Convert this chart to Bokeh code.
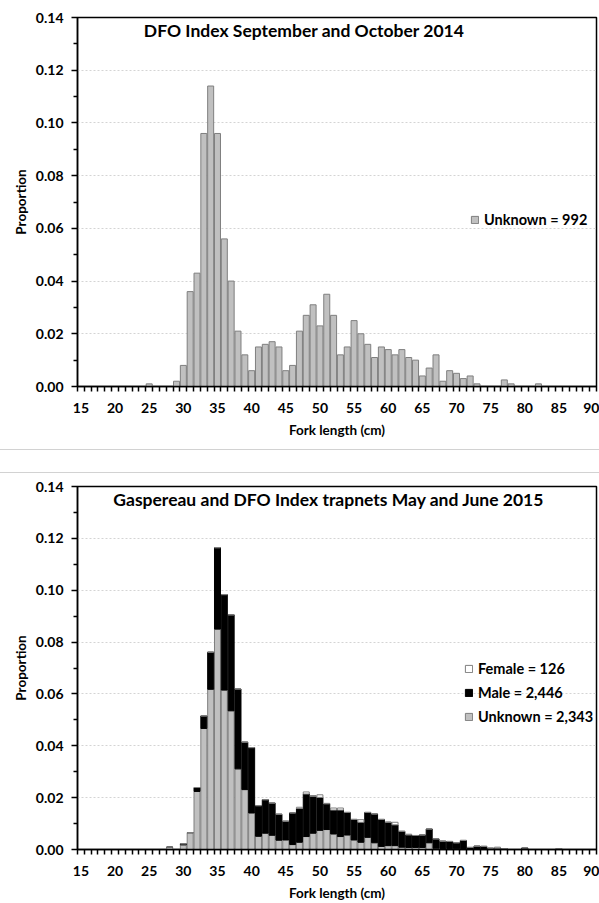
from bokeh.plotting import figure
from bokeh.models import (Range1d, FixedTicker, NumeralTickFormatter, Legend,
                          LegendItem, Label, ColumnDataSource, Div)
from bokeh.layouts import column
from bokeh.embed import file_html
from bokeh.resources import INLINE

# ---------------- data ----------------
lengths = list(range(15, 91))  # fork length classes (cm)
x_tick_labels = list(range(15, 91, 5))
y_ticks = [0.0, 0.02, 0.04, 0.06, 0.08, 0.10, 0.12, 0.14]

title_2014 = "DFO Index September and October 2014"
title_2015 = "Gaspereau and DFO Index trapnets May and June 2015"

# 2014 DFO index - unknown sex (n = 992)
unknown_2014 = [
    0, 0, 0, 0, 0, 0, 0, 0, 0, 0,                                  # 15-24
    0.001, 0, 0, 0, 0.002, 0.008, 0.036, 0.043, 0.096, 0.114,      # 25-34
    0.096, 0.056, 0.040, 0.021, 0.012, 0.006, 0.015, 0.016, 0.017, 0.015,  # 35-44
    0.006, 0.008, 0.021, 0.027, 0.031, 0.023, 0.035, 0.027, 0.012, 0.015,  # 45-54
    0.025, 0.020, 0.016, 0.011, 0.015, 0.014, 0.012, 0.014, 0.011, 0.010,  # 55-64
    0.004, 0.007, 0.012, 0.002, 0.006, 0.005, 0.003, 0.004, 0.001, 0,      # 65-74
    0, 0, 0.0025, 0.001, 0, 0, 0, 0.001, 0, 0,                    # 75-84
    0, 0, 0, 0, 0, 0,                                              # 85-90
]

# 2015 trapnets - stacked by sex
unknown_2015 = [
    0, 0, 0, 0, 0, 0, 0, 0, 0, 0,
    0, 0, 0, 0.0009, 0, 0.0018, 0.0065, 0.0224, 0.0467, 0.0618,
    0.0850, 0.0615, 0.0535, 0.0311, 0.0231, 0.0141, 0.0051, 0.0063, 0.0055, 0.0036,
    0.0037, 0.0019, 0.0028, 0.0050, 0.0063, 0.0074, 0.0077, 0.0060, 0.0050, 0.0056,
    0.0037, 0.0028, 0.0047, 0.0026, 0.0012, 0.0015, 0.0015, 0.0009, 0.0008, 0.0008,
    0.0008, 0.0026, 0.0005, 0.0004, 0.0004, 0.0003, 0.0004, 0, 0, 0,
    0, 0, 0, 0, 0, 0, 0, 0, 0, 0,
    0, 0, 0, 0, 0, 0,
]
male_2015 = [
    0, 0, 0, 0, 0, 0, 0, 0, 0, 0,
    0, 0, 0, 0, 0, 0.0004, 0, 0.0015, 0.0048, 0.0143,
    0.0314, 0.0368, 0.0370, 0.0308, 0.0183, 0.0252, 0.0118, 0.0129, 0.0124, 0.0100,
    0.0072, 0.0122, 0.0130, 0.0164, 0.0142, 0.0127, 0.0099, 0.0092, 0.0102, 0.0087,
    0.0079, 0.0077, 0.0096, 0.0111, 0.0104, 0.0090, 0.0080, 0.0061, 0.0048, 0.0046,
    0.0048, 0.0053, 0.0036, 0.0028, 0.0027, 0.0023, 0.0031, 0.0008, 0.0013, 0.0012,
    0.0005, 0.0005, 0.0003, 0, 0, 0.0006, 0, 0, 0, 0,
    0.0003, 0, 0, 0, 0, 0,
]
female_2015 = [
    0, 0, 0, 0, 0, 0, 0, 0, 0, 0,
    0, 0, 0, 0, 0, 0, 0, 0, 0, 0,
    0, 0, 0, 0, 0, 0, 0, 0, 0, 0,
    0, 0, 0.0005, 0.0008, 0.0003, 0.0010, 0.0002, 0.0008, 0.0008, 0,
    0, 0.0010, 0, 0, 0, 0, 0.0010, 0, 0.0003, 0,
    0, 0, 0, 0, 0, 0, 0, 0, 0, 0,
    0, 0.0004, 0, 0, 0, 0, 0, 0, 0, 0,
    0, 0, 0, 0, 0, 0,
]

label_2014 = "Unknown = 992"
labels_2015 = ["Female = 126", "Male = 2,446", "Unknown = 2,343"]

# ---------------- styling ----------------
FONT = "Lato"
GRAY_FILL = "#c0c0c0"
GRAY_LINE = "#7f7f7f"
BAR_W = 0.88


def style(p):
    p.x_range = Range1d(14.5, 90.5)
    p.y_range = Range1d(0, 0.14)
    p.outline_line_color = "black"
    p.outline_line_width = 1.5
    p.background_fill_color = "white"
    p.border_fill_color = "white"
    p.xgrid.visible = False
    p.ygrid.grid_line_color = "#d4d4d4"
    p.ygrid.grid_line_dash = "2 2"
    p.ygrid.grid_line_width = 1

    xa = p.xaxis[0]
    xa.ticker = FixedTicker(ticks=x_tick_labels,
                            minor_ticks=[v - 0.5 for v in lengths] + [90.5])
    xa.major_tick_line_color = None
    xa.minor_tick_line_color = "black"
    xa.minor_tick_line_width = 1.5
    xa.minor_tick_out = 5
    xa.minor_tick_in = 0
    xa.axis_line_color = "black"
    xa.axis_line_width = 1.5
    xa.major_label_text_font = FONT
    xa.major_label_text_font_style = "bold"
    xa.major_label_text_font_size = "14px"
    xa.major_label_text_color = "black"
    xa.major_label_standoff = 10
    xa.axis_label = "Fork length (cm)"
    xa.axis_label_text_font = FONT
    xa.axis_label_text_font_style = "bold"
    xa.axis_label_text_font_size = "13.5px"
    xa.axis_label_text_color = "black"
    xa.axis_label_standoff = 6

    ya = p.yaxis[0]
    ya.ticker = FixedTicker(ticks=y_ticks,
                            minor_ticks=[0.01, 0.03, 0.05, 0.07, 0.09, 0.11, 0.13])
    ya.formatter = NumeralTickFormatter(format="0.00")
    ya.major_tick_line_color = "black"
    ya.major_tick_line_width = 1.5
    ya.major_tick_out = 6
    ya.major_tick_in = 0
    ya.minor_tick_line_color = "black"
    ya.minor_tick_line_width = 1.5
    ya.minor_tick_out = 4
    ya.minor_tick_in = 0
    ya.axis_line_color = "black"
    ya.axis_line_width = 1.5
    ya.major_label_text_font = FONT
    ya.major_label_text_font_style = "bold"
    ya.major_label_text_font_size = "14px"
    ya.major_label_text_color = "black"
    ya.major_label_standoff = 8
    ya.axis_label = "Proportion"
    ya.axis_label_text_font = FONT
    ya.axis_label_text_font_style = "bold"
    ya.axis_label_text_font_size = "13.5px"
    ya.axis_label_text_color = "black"
    ya.axis_label_standoff = 4


def make_legend(items, loc):
    return Legend(items=items, location=loc, padding=0, margin=0,
                  border_line_alpha=0, background_fill_alpha=0,
                  label_text_font=FONT, label_text_font_style="bold",
                  label_text_font_size="14.5px", label_text_color="black",
                  glyph_width=9, glyph_height=9, label_standoff=5,
                  label_height=17, spacing=7)


# ---------------- top chart ----------------
p1 = figure(width=599, height=449, output_backend="svg", toolbar_location=None,
            min_border_left=77, min_border_right=2, min_border_top=17,
            min_border_bottom=63)
style(p1)
src1 = ColumnDataSource(dict(length=lengths, unknown=unknown_2014))
r1 = p1.vbar(x="length", top="unknown", width=BAR_W, source=src1,
             fill_color=GRAY_FILL, line_color=GRAY_LINE, line_width=1)
p1.add_layout(Label(x=47.7, y=0.135, text=title_2014, text_align="center",
                    text_baseline="middle", text_font=FONT,
                    text_font_style="bold", text_font_size="17.5px",
                    text_color="black"))
p1.add_layout(make_legend([LegendItem(label=label_2014, renderers=[r1])],
                          (393, 158)))

# ---------------- separator ----------------
sep = Div(text="", width=599, height=24, margin=0,
          styles={"border-top": "1px solid #d2d2d2",
                  "border-bottom": "1px solid #d2d2d2",
                  "box-sizing": "border-box", "background": "white"})

# ---------------- bottom chart ----------------
p2 = figure(width=599, height=430, output_backend="svg", toolbar_location=None,
            min_border_left=77, min_border_right=3, min_border_top=13,
            min_border_bottom=52)
style(p2)
src2 = ColumnDataSource(dict(length=lengths, unknown=unknown_2015,
                             male=male_2015, female=female_2015))
rs = p2.vbar_stack(["unknown", "male", "female"], x="length", width=BAR_W,
                   source=src2,
                   fill_color=[GRAY_FILL, "black", "white"],
                   line_color=[GRAY_LINE, "black", GRAY_LINE], line_width=1)
p2.add_layout(Label(x=51.3, y=0.135, text=title_2015, text_align="center",
                    text_baseline="middle", text_font=FONT,
                    text_font_style="bold", text_font_size="17.5px",
                    text_color="black"))
p2.add_layout(make_legend([
    LegendItem(label=labels_2015[0], renderers=[rs[2]]),
    LegendItem(label=labels_2015[1], renderers=[rs[1]]),
    LegendItem(label=labels_2015[2], renderers=[rs[0]]),
], (387, 124)))

layout = column(p1, sep, p2, spacing=0)
open("out.html", "w").write(file_html(layout, INLINE))
